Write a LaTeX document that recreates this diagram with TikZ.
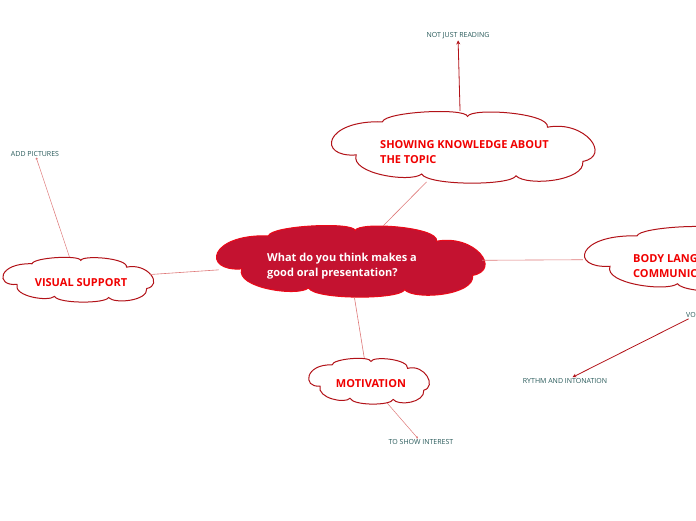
\documentclass[tikz,border=0pt]{standalone}
\usepackage{fontspec}
\setmainfont{Open Sans}
\usetikzlibrary{shapes.geometric,arrows.meta}

\definecolor{coreRed}{RGB}{196,18,48}
\definecolor{rimRed}{RGB}{235,10,25}
\definecolor{edgeRed}{RGB}{178,18,24}
\definecolor{linkRed}{RGB}{222,120,120}
\definecolor{titleRed}{RGB}{240,0,0}
\definecolor{leafTeal}{RGB}{38,88,88}

\begin{document}
\begin{tikzpicture}[
    x=1pt, y=-1pt,
    % a flat mind-map cloud, unit size, drawn round its centre
    mmcloud/.pic={
      \path[pic actions] (-0.6,-0.7)
        .. controls (-0.58,-0.98) and (0.03,-1.1) .. (0.05,-0.85)
        .. controls (0.08,-1.1) and (0.68,-0.95) .. (0.66,-0.55)
        .. controls (0.95,-0.75) and (1.15,0.25) .. (0.93,0.4)
        .. controls (0.95,0.95) and (0.5,1.1) .. (0.42,0.8)
        .. controls (0.38,1.08) and (-0.25,1.08) .. (-0.3,0.75)
        .. controls (-0.38,1.0) and (-0.85,0.75) .. (-0.8,0.22)
        .. controls (-1.1,0.3) and (-1.05,-0.75) .. (-0.6,-0.7) -- cycle;
    },
    body/.style={ellipse, inner sep=0pt},
    puff/.style={draw=edgeRed, fill=white, line width=1pt},
    core/.style={draw=rimRed, fill=coreRed, line width=1pt},
    topic/.style={font=\fontsize{11}{15}\selectfont\bfseries, text=titleRed,
      align=left, inner sep=0pt},
    leaf/.style={font=\fontsize{7}{8}\selectfont, text=leafTeal, inner sep=1pt},
    link/.style={draw=linkRed, line width=0.6pt},
    twig/.style={draw=edgeRed, line width=0.8pt, -{Stealth[length=4pt,width=4pt]}},
    sprig/.style={draw=linkRed, line width=0.5pt, -{Circle[length=2pt]}}
  ]

  \useasboundingbox (0,0) rectangle (696,520);
  \clip (0,0) rectangle (696,520);

  %% ---- Clouds (outline + body node) ----
  % central question
  \node[body, minimum width=267pt, minimum height=72pt] (main) at (348.5,261) {};
  \pic[core, xscale=133.5, yscale=36] at (main.center) {mmcloud};
  \node[topic, text=white, anchor=west] (mainTxt) at (267,266.5)
    {What do you think makes a\\good oral presentation?};

  % knowledge
  \node[body, minimum width=262pt, minimum height=72pt] (know) at (461,147) {};
  \pic[puff, xscale=131, yscale=36] at (know.center) {mmcloud};
  \node[topic, anchor=west] (knowTxt) at (380,152.5)
    {SHOWING KNOWLEDGE ABOUT\\THE TOPIC};

  % body language (runs off the right edge)
  \node[body, minimum width=270pt, minimum height=66pt] (bodyLang) at (718,259) {};
  \pic[puff, xscale=135, yscale=33] at (bodyLang.center) {mmcloud};
  \node[topic, anchor=west] (bodyTxt) at (633,266.5)
    {BODY LANGUAGE AND\\COMMUNICATION};

  % visual support
  \node[body, minimum width=150pt, minimum height=45pt] (visual) at (77,279.5) {};
  \pic[puff, xscale=75, yscale=22.5] at (visual.center) {mmcloud};
  \node[topic] (visualTxt) at (81,283) {VISUAL SUPPORT};

  % motivation
  \node[body, minimum width=120pt, minimum height=46pt] (motiv) at (368,381) {};
  \pic[puff, xscale=60, yscale=23] at (motiv.center) {mmcloud};
  \node[topic] (motivTxt) at (371,384) {MOTIVATION};

  %% ---- Leaves ----
  \node[leaf] (notJust) at (458,36) {NOT JUST READING};
  \node[leaf] (addPic) at (35,154) {ADD PICTURES};
  \node[leaf] (showInt) at (421,442) {TO SHOW INTEREST};
  \node[leaf] (rythm) at (565,381) {RYTHM AND INTONATION};
  \node[leaf, anchor=west] (voice) at (685,315) {VOICE};

  %% ---- Branches ----
  \draw[link] (main) -- (know);
  \draw[link] (main) -- (visual);
  \draw[link] (main) -- (bodyLang);
  \draw[link] (main) -- (motiv);

  %% ---- Sub-branches ----
  \draw[twig] (know) -- (notJust);
  \draw[sprig] (visual) -- (addPic);
  \draw[sprig] (motiv) -- (showInt);
  \draw[twig] (voice) -- (rythm);

\end{tikzpicture}
\end{document}
